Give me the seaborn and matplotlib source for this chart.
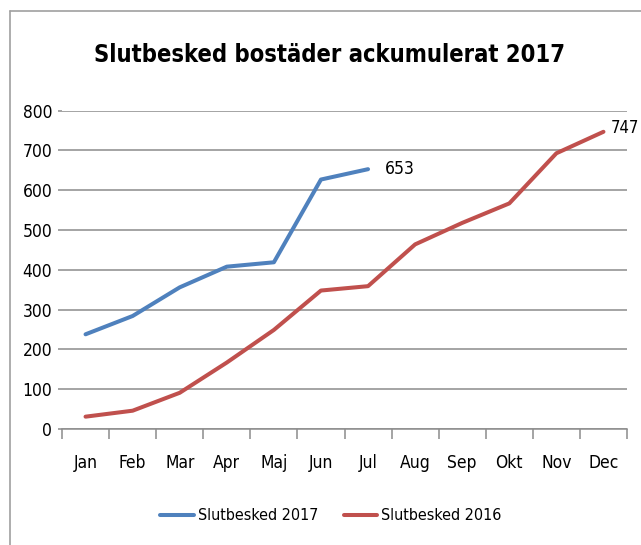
import numpy as np
import pandas as pd
import matplotlib
matplotlib.use("Agg")
import matplotlib.pyplot as plt
from matplotlib.lines import Line2D
import seaborn as sns

# data
months = ["Jan", "Feb", "Mar", "Apr", "Maj", "Jun", "Jul",
          "Aug", "Sep", "Okt", "Nov", "Dec"]
slut_2017 = [238, 284, 356, 408, 419, 627, 653]
slut_2016 = [31, 46, 91, 167, 249, 348, 359, 464, 518, 567, 693, 747]
series_names = ["Slutbesked 2017", "Slutbesked 2016"]
colors = ["#4F81BD", "#C0504D"]

df = pd.concat([
    pd.DataFrame({"pos": np.arange(len(slut_2017)), "value": slut_2017, "serie": series_names[0]}),
    pd.DataFrame({"pos": np.arange(len(slut_2016)), "value": slut_2016, "serie": series_names[1]}),
])

sns.set_theme(style="white")
plt.rcParams["font.family"] = ["DejaVu Sans"]
plt.rcParams["font.stretch"] = "condensed"
plt.rcParams["text.color"] = "black"
plt.rcParams["xtick.color"] = "black"
plt.rcParams["ytick.color"] = "black"

fig = plt.figure(figsize=(6.41, 5.45), dpi=100)
ax = fig.add_axes([62 / 641, 1 - 429 / 545, (627 - 62) / 641, (429 - 110.7) / 545])

sns.lineplot(data=df, x="pos", y="value", hue="serie", palette=colors,
             linewidth=2.9, ax=ax, legend=False, sort=False)

ax.set_xlim(-0.5, len(months) - 0.5)
ax.set_ylim(0, 800)
ax.set_yticks(range(0, 801, 100))
ax.set_xticks(np.arange(len(months)))
ax.set_xticklabels(months)
ax.set_xticks(np.arange(len(months) + 1) - 0.5, minor=True)
ax.set_xlabel("")
ax.set_ylabel("")

grid_col = "#8c8c8c"
ax.yaxis.grid(True, color=grid_col, linewidth=1.1)
ax.xaxis.grid(False)
for s in ["top", "right", "left"]:
    ax.spines[s].set_visible(False)
ax.spines["bottom"].set_color(grid_col)
ax.spines["bottom"].set_linewidth(1.1)
ax.tick_params(axis="x", which="major", length=0, pad=18, labelsize=12.5, labelcolor="black")
ax.tick_params(axis="x", which="minor", length=7, width=1.1, color=grid_col, bottom=True)
ax.tick_params(axis="y", length=3, width=1.1, color=grid_col, left=True, labelsize=12.5,
               pad=4, labelcolor="black")

# end labels
ax.annotate(str(slut_2017[-1]), (len(slut_2017) - 1, slut_2017[-1]), xytext=(12, 0),
            textcoords="offset points", va="center", ha="left", fontsize=12.5)
ax.annotate(str(slut_2016[-1]), (len(slut_2016) - 1, slut_2016[-1]), xytext=(5, 3),
            textcoords="offset points", va="center", ha="left", fontsize=12,
            annotation_clip=False)

fig.text(330 / 641, 1 - 55 / 545, "Slutbesked bostäder ackumulerat 2017",
         ha="center", va="center", fontsize=17, fontweight="bold")

handles = [Line2D([], [], color=c, linewidth=2.9) for c in colors]
fig.legend(handles, series_names, loc="center", bbox_to_anchor=(331 / 641, 1 - 516 / 545),
           ncol=2, frameon=False, fontsize=11.5, handlelength=2.1, handletextpad=0.25,
           columnspacing=1.6)

# chart border (cropped on right/bottom)
border = "#a0a0a0"
fig.add_artist(Line2D([10 / 641, 1], [1 - 11 / 545] * 2, color=border, linewidth=1.2,
                      transform=fig.transFigure))
fig.add_artist(Line2D([10 / 641] * 2, [0, 1 - 11 / 545], color=border, linewidth=1.2,
                      transform=fig.transFigure))

fig.savefig("out.png", dpi=100)
